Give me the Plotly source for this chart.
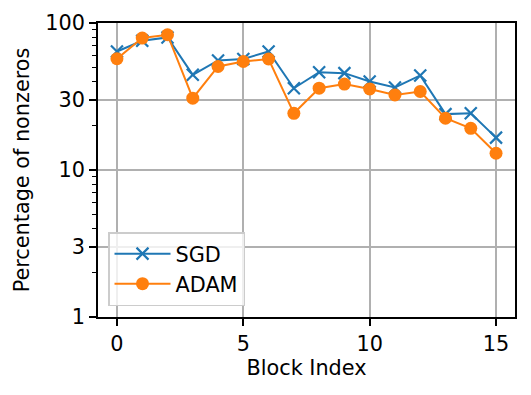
import plotly.graph_objects as go

block_index = list(range(16))
sgd = [64, 75.7, 79.8, 44.4, 55.6, 56.9, 64, 36, 46.3, 45.6, 40, 36.4, 44, 24, 24.3, 16.6]
adam = [57.1, 79, 83.2, 30.8, 50.6, 54.7, 56.9, 24.3, 36, 38.4, 35.6, 32.4, 34.2, 22.5, 19.2, 13]

y_ticks = [1, 3, 10, 30, 100]
y_tick_labels = ["1", "3", "10", "30", "100"]
y_minor = [2, 4, 5, 6, 7, 8, 9, 20, 40, 50, 60, 70, 80, 90]
x_ticks = [0, 5, 10, 15]

FONT = "DejaVu Sans"
FS = 20.8

fig = go.Figure()
fig.add_trace(go.Scatter(
    x=block_index, y=sgd, name="SGD", mode="lines+markers",
    line=dict(color="#1f77b4", width=2),
    marker=dict(symbol="x-thin", size=12, color="#1f77b4",
                line=dict(color="#1f77b4", width=2.2)),
))
fig.add_trace(go.Scatter(
    x=block_index, y=adam, name="ADAM", mode="lines+markers",
    line=dict(color="#ff7f0e", width=2),
    marker=dict(symbol="circle", size=13, color="#ff7f0e",
                line=dict(width=0)),
))

fig.update_layout(
    width=531, height=395,
    margin=dict(l=98, r=16, t=23, b=78),
    paper_bgcolor="white", plot_bgcolor="white",
    font=dict(family=FONT, size=FS, color="black"),
    showlegend=True,
    legend=dict(
        x=0.024, y=0.037, xanchor="left", yanchor="bottom",
        bgcolor="rgba(255,255,255,0.8)", bordercolor="#cccccc", borderwidth=1.5,
        font=dict(family=FONT, size=FS, color="black"),
        tracegroupgap=0, itemwidth=56,
    ),
    xaxis=dict(
        title=dict(text="Block Index", font=dict(size=FS), standoff=4),
        range=[-0.75, 15.75], automargin=False,
        tickmode="array", tickvals=x_ticks,
        ticks="outside", ticklen=7, tickwidth=1.6, tickcolor="black",
        showline=True, linecolor="black", linewidth=1.6, mirror=True,
        showgrid=True, gridcolor="#b0b0b0", gridwidth=1.6,
        zeroline=False,
    ),
    yaxis=dict(
        title=dict(text="Percentage of nonzeros", font=dict(size=FS), standoff=10),
        type="log", range=[0, 2], automargin=False,
        tickmode="array", tickvals=y_ticks, ticktext=y_tick_labels,
        ticks="outside", ticklen=7, tickwidth=1.6, tickcolor="black",
        showline=True, linecolor="black", linewidth=1.6, mirror=True,
        showgrid=True, gridcolor="#b0b0b0", gridwidth=1.6,
        zeroline=False,
        minor=dict(tickmode="array", tickvals=y_minor, ticks="outside",
                   ticklen=4, tickwidth=1.2, tickcolor="black", showgrid=False),
    ),
)

fig.write_html("out.html",
               config={"displayModeBar": False},
               post_script="document.body.style.margin='0';document.body.style.overflow='hidden';")
